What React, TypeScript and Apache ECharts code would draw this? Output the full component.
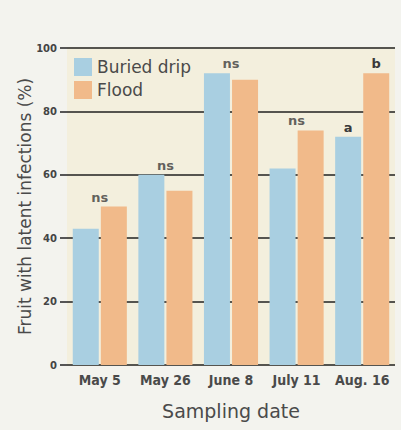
import React, { useEffect, useRef } from "react";
import * as echarts from "echarts";

const categories = ["May 5", "May 26", "June 8", "July 11", "Aug. 16"];
const buriedDrip = [43, 60, 92, 62, 72];
const flood = [50, 55, 90, 74, 92];
const pairLabels = ["ns", "ns", "ns", "ns", ""];
const buriedLetters = ["", "", "", "", "a"];
const floodLetters = ["", "", "", "", "b"];
const yTicks = [0, 20, 40, 60, 80, 100];

export default function App() {
  const ref = useRef<HTMLDivElement>(null);
  useEffect(() => {
    if (!ref.current) return;
    const chart = echarts.init(ref.current, null, { renderer: "svg" });
    const font = "'DejaVu Sans', 'Open Sans', sans-serif";
    const narrow = "'DejaVu Sans Condensed', 'DejaVu Sans', sans-serif";
    const pairTop = buriedDrip.map((b, i) => (pairLabels[i] ? Math.max(b, flood[i]) : null));
    const sigLabel = { position: "top", distance: 3, fontSize: 13, fontWeight: "bold", color: "#3a3a3a", fontFamily: font };
    chart.setOption({
      animation: false,
      backgroundColor: "#f3f3ee",
      textStyle: { fontFamily: font },
      grid: {
        left: 67,
        right: 6,
        top: 48,
        bottom: 65,
        show: true,
        backgroundColor: "#f3efdd",
        borderWidth: 0,
      },
      legend: {
        orient: "vertical",
        left: 74,
        top: 58,
        padding: 0,
        itemWidth: 18,
        itemHeight: 18,
        itemGap: 5,
        icon: "rect",
        data: ["Buried drip", "Flood"],
        textStyle: { fontSize: 17, color: "#4a4a4a", fontFamily: font },
      },
      xAxis: {
        type: "category",
        data: categories,
        name: "Sampling date",
        nameLocation: "middle",
        nameGap: 36,
        nameMoveOverlap: false,
        nameTextStyle: { fontSize: 19, color: "#4a4a4a", fontFamily: font },
        axisLine: { show: false },
        axisTick: { show: false },
        axisLabel: {
          interval: 0,
          hideOverlap: false,
          fontSize: 14,
          fontWeight: "bold",
          color: "#4a4a4a",
          margin: 8,
          fontFamily: narrow,
        },
      },
      yAxis: {
        type: "value",
        min: yTicks[0],
        max: yTicks[yTicks.length - 1],
        interval: 20,
        name: "Fruit with latent infections (%)",
        nameLocation: "middle",
        nameGap: 34,
        nameMoveOverlap: false,
        nameTextStyle: { fontSize: 17, color: "#4a4a4a", fontFamily: font },
        axisLine: { show: false },
        axisTick: { show: true, length: 7, lineStyle: { color: "#555", width: 2 } },
        axisLabel: { fontSize: 10, fontWeight: "bold", color: "#444", margin: 10, fontFamily: font },
        splitLine: { show: true, lineStyle: { color: "#55544f", width: 2 } },
      },
      series: [
        {
          name: "Buried drip",
          type: "bar",
          data: buriedDrip.map((v, i) => ({
            value: v,
            label: { show: !!buriedLetters[i], formatter: buriedLetters[i] },
          })),
          barWidth: 26,
          barGap: "8%",
          itemStyle: { color: "#a9cfe1" },
          label: sigLabel,
        },
        {
          name: "Flood",
          type: "bar",
          data: flood.map((v, i) => ({
            value: v,
            label: { show: !!floodLetters[i], formatter: floodLetters[i] },
          })),
          barWidth: 26,
          itemStyle: { color: "#f1ba8a" },
          label: sigLabel,
        },
        {
          name: "sig",
          type: "scatter",
          data: pairTop,
          symbolSize: 0,
          silent: true,
          label: {
            ...sigLabel,
            show: true,
            formatter: (p: any) => pairLabels[p.dataIndex],
          },
        },
      ],
    });
    return () => chart.dispose();
  }, []);
  return (
    <div
      ref={ref}
      style={{ position: "fixed", left: 0, top: 0, width: 401, height: 430 }}
    />
  );
}
